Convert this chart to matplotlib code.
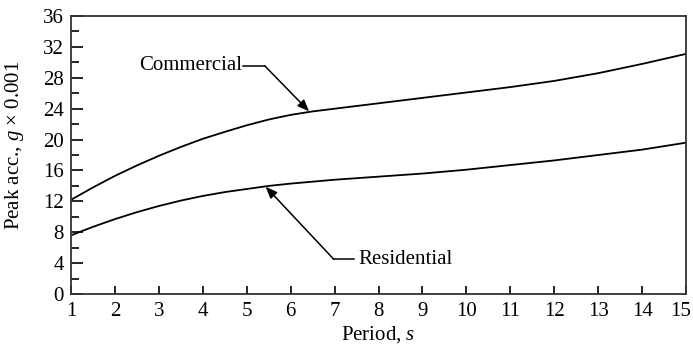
import matplotlib
matplotlib.use("Agg")
import matplotlib.pyplot as plt
from matplotlib.ticker import MultipleLocator
from matplotlib.transforms import ScaledTranslation

plt.rcParams["font.family"] = ["Liberation Serif", "DejaVu Serif"]
plt.rcParams["mathtext.fontset"] = "custom"
plt.rcParams["mathtext.rm"] = "Liberation Serif"
plt.rcParams["mathtext.it"] = "Liberation Serif:italic"

# values
period = [1, 1.5, 2, 2.5, 3, 3.5, 4, 4.5, 5, 5.5, 6, 6.5, 7, 8, 9, 10,
          11, 12, 13, 14, 15]
commercial = [12.2, 13.8, 15.3, 16.65, 17.9, 19.05, 20.1, 21.0, 21.85, 22.6,
              23.2, 23.65, 24.0, 24.7, 25.4, 26.1, 26.8, 27.6, 28.6, 29.8, 31.1]
residential = [7.6, 8.7, 9.7, 10.6, 11.4, 12.1, 12.7, 13.2, 13.6, 14.0,
               14.3, 14.55, 14.8, 15.2, 15.6, 16.1, 16.7, 17.3, 18.0, 18.7, 19.6]

x_ticks = list(range(1, 16))
y_ticks = list(range(0, 37, 4))

fig = plt.figure(figsize=(6.93, 3.49), dpi=100)
ax = fig.add_axes([0.1025, 0.1576, 0.8875, 0.7964])

ax.plot(period, commercial, color="black", linewidth=1.3)
ax.plot(period, residential, color="black", linewidth=1.3)

ax.set_xlim(1, 15)
ax.set_ylim(0, 36)
ax.set_xticks(x_ticks)
ax.set_yticks(y_ticks)
ax.yaxis.set_minor_locator(MultipleLocator(2))

ax.tick_params(axis="x", which="major", direction="in", length=6, width=1.2,
               labelsize=15, pad=6, colors="black")
ax.tick_params(axis="y", which="major", direction="in", length=8.5, width=1.2,
               labelsize=15, pad=5)
ax.tick_params(axis="y", which="minor", direction="in", length=5.5, width=1.2)

for sp in ax.spines.values():
    sp.set_linewidth(1.3)
    sp.set_color("#333333")

# last x label sits a little left so it is not clipped
last = ax.get_xticklabels()[-1]
last.set_transform(last.get_transform() + ScaledTranslation(-4 / 72, 0, fig.dpi_scale_trans))

ax.set_xlabel("Period, $s$", fontsize=15, labelpad=2)
ax.set_ylabel("Peak acc., $g$ \u00d7 0.001", fontsize=15)
ax.yaxis.set_label_coords(-0.074, 0.535)

# callouts
ax.annotate("", xy=(6.42, 23.65), xytext=(5.41, 29.55),
            arrowprops=dict(arrowstyle="-|>,head_length=0.5,head_width=0.2",
                            color="black", lw=1.1, mutation_scale=14,
                            shrinkA=0, shrinkB=0))
ax.plot([4.92, 5.41], [29.55, 29.55], color="black", lw=1.1)
ax.text(4.89, 29.55, "Commercial", fontsize=15, ha="right", va="center")

ax.annotate("", xy=(5.43, 13.9), xytext=(6.98, 4.5),
            arrowprops=dict(arrowstyle="-|>,head_length=0.5,head_width=0.2",
                            color="black", lw=1.1, mutation_scale=14,
                            shrinkA=0, shrinkB=0))
ax.plot([6.98, 7.45], [4.5, 4.5], color="black", lw=1.1)
ax.text(7.55, 4.5, "Residential", fontsize=15, ha="left", va="center")

fig.savefig("out.png", dpi=100)
